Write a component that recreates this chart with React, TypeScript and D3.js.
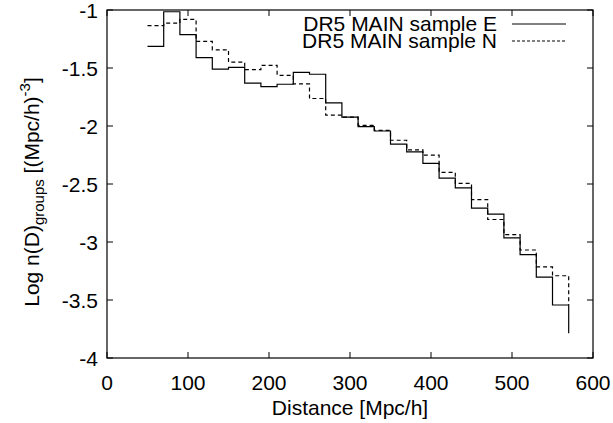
import React from "react";
import * as d3 from "d3";

const distances = [50, 70, 90, 110, 130, 150, 170, 190, 210, 230, 250, 270, 290, 310, 330, 350, 370, 390, 410, 430, 450, 470, 490, 510, 530, 550, 570];
const sampleE = [-1.314, -1.015, -1.212, -1.41, -1.51, -1.495, -1.63, -1.66, -1.64, -1.537, -1.554, -1.8, -1.923, -2.006, -2.043, -2.157, -2.223, -2.323, -2.449, -2.534, -2.708, -2.76, -2.965, -3.109, -3.303, -3.543, -3.786];
const sampleN = [-1.134, -1.114, -1.08, -1.27, -1.343, -1.45, -1.514, -1.477, -1.563, -1.637, -1.763, -1.906, -1.923, -1.994, -2.037, -2.123, -2.206, -2.251, -2.4, -2.494, -2.634, -2.806, -2.937, -3.069, -3.214, -3.291, -3.543];
const xTicks = [0, 100, 200, 300, 400, 500, 600];
const yTicks = [-1, -1.5, -2, -2.5, -3, -3.5, -4];
const seriesNames = ["DR5 MAIN sample E", "DR5 MAIN sample N"];

const W = 613, H = 423;
const L = 107, R = 593, T = 10, B = 358;
const FONT = "'Liberation Sans', Arial, Helvetica, sans-serif";
const FS = 21;
const FSS = 15;

export default function App() {
  const x = d3.scaleLinear().domain([0, 600]).range([L, R]);
  const y = d3.scaleLinear().domain([-4, -1]).range([B, T]);
  const line = d3.line<[number, number]>().x(d => x(d[0])).y(d => y(d[1])).curve(d3.curveStepAfter);
  const ptsE = distances.map((d, i) => [d, sampleE[i]] as [number, number]);
  const ptsN = distances.map((d, i) => [d, sampleN[i]] as [number, number]);
  const tl = 6;
  return (
    <svg width={W} height={H} style={{ position: "absolute", left: 0, top: 0, background: "#fff" }} fontFamily={FONT}>
      <rect x={0} y={0} width={W} height={H} fill="#fff" />
      <defs>
        <clipPath id="plot"><rect x={L} y={T} width={R - L} height={B - T} /></clipPath>
      </defs>
      {xTicks.map(t => (
        <g key={"x" + t}>
          <line x1={x(t)} x2={x(t)} y1={B} y2={B - tl} stroke="#000" />
          <line x1={x(t)} x2={x(t)} y1={T} y2={T + tl} stroke="#000" />
          <text x={x(t)} y={B + 32} textAnchor="middle" fontSize={FS}>{t}</text>
        </g>
      ))}
      {yTicks.map(t => (
        <g key={"y" + t}>
          <line x1={L} x2={L + tl} y1={y(t)} y2={y(t)} stroke="#000" />
          <line x1={R} x2={R - tl} y1={y(t)} y2={y(t)} stroke="#000" />
          <text x={L - 9} y={y(t) + 7.5} textAnchor="end" fontSize={FS}>{t}</text>
        </g>
      ))}
      <g clipPath="url(#plot)">
        <path d={line(ptsE) || ""} fill="none" stroke="#000" strokeWidth={1.2} />
        <path d={line(ptsN) || ""} fill="none" stroke="#000" strokeWidth={1.2} strokeDasharray="4,3" />
      </g>
      <rect x={L} y={T} width={R - L} height={B - T} fill="none" stroke="#000" strokeWidth={1.2} />
      <text x={497} y={31} textAnchor="end" fontSize={FS}>{seriesNames[0]}</text>
      <line x1={512} x2={566} y1={24} y2={24} stroke="#000" strokeWidth={1} />
      <text x={497} y={48} textAnchor="end" fontSize={FS}>{seriesNames[1]}</text>
      <line x1={512} x2={566} y1={41} y2={41} stroke="#000" strokeWidth={1} strokeDasharray="3,2" />
      <text x={(L + R) / 2} y={415} textAnchor="middle" fontSize={FS}>Distance [Mpc/h]</text>
      <text transform={`translate(39, 192) rotate(-90)`} textAnchor="middle" fontSize={FS}>
        Log n(D)<tspan fontSize={FSS} dy={5}>groups</tspan><tspan dy={-5}> [(Mpc/h)</tspan><tspan fontSize={FSS} dy={-9}>-3</tspan><tspan dy={9}>]</tspan>
      </text>
    </svg>
  );
}
